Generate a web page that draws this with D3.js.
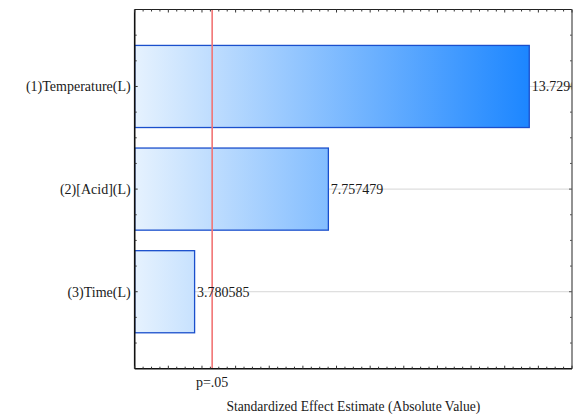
<!DOCTYPE html>
<html>
<head>
<meta charset="utf-8">
<script src="https://cdn.jsdelivr.net/npm/d3@7"></script>
<style>
  html, body { margin: 0; padding: 0; background: #fff; }
</style>
</head>
<body>
<svg id="chart" width="586" height="419"></svg>
<script>
// Pareto chart of standardized effects
const effects = ["(1)Temperature(L)", "(2)[Acid](L)", "(3)Time(L)"];
const estimates = [13.7296, 7.757479, 3.780585];
const valueLabels = ["13.7296", "7.757479", "3.780585"];
const critical = 4.302653;           // t critical value at p = .05
const criticalLabel = "p=.05";
const xTitle = "Standardized Effect Estimate (Absolute Value)";

const FONT = "'Liberation Serif', 'Times New Roman', Times, serif";
const svg = d3.select("#chart")
  .attr("font-family", FONT);
const plotLeft = 134.7, plotRight = 572, plotTop = 9.5, plotBottom = 368.7;

const x = d3.scaleLinear().domain([2, 15]).range([plotLeft, plotRight]);
const y = d3.scaleLinear().domain([0.25, 3.75]).range([plotTop, plotBottom]);
const barH = y(0.8) - y(0);

// bar fill gradient, shared across the plot width
const defs = svg.append("defs");
const grad = defs.append("linearGradient")
  .attr("id", "barGrad").attr("gradientUnits", "userSpaceOnUse")
  .attr("x1", x(2)).attr("x2", x(d3.max(estimates))).attr("y1", 0).attr("y2", 0);
grad.append("stop").attr("offset", "0%").attr("stop-color", "#e6f2fe");
grad.append("stop").attr("offset", "100%").attr("stop-color", "#1c86ff");

defs.append("clipPath").attr("id", "plotClip")
  .append("rect").attr("x", plotLeft).attr("y", plotTop)
  .attr("width", plotRight - plotLeft).attr("height", plotBottom - plotTop);

const plot = svg.append("g").attr("clip-path", "url(#plotClip)");

// horizontal grid lines at each effect
plot.selectAll(".grid").data(effects).join("line")
  .attr("x1", plotLeft).attr("x2", plotRight)
  .attr("y1", (d, i) => y(i + 1)).attr("y2", (d, i) => y(i + 1))
  .attr("stroke", "#d6d6d6").attr("stroke-width", 1);

// bars
plot.selectAll(".bar").data(estimates).join("rect")
  .attr("x", x(2))
  .attr("y", (d, i) => y(i + 1) - barH / 2)
  .attr("width", d => x(d) - x(2))
  .attr("height", barH)
  .attr("fill", "url(#barGrad)")
  .attr("stroke", "#1a4fcc").attr("stroke-width", 1.3);

// significance line
plot.append("line")
  .attr("x1", x(critical)).attr("x2", x(critical))
  .attr("y1", plotTop).attr("y2", plotBottom)
  .attr("stroke", "#f27575").attr("stroke-width", 1.6);

// value labels
plot.selectAll(".val").data(estimates).join("text")
  .attr("x", d => x(d) + 2.5)
  .attr("y", (d, i) => y(i + 1))
  .attr("dy", "0.35em")
  .attr("font-size", 14)
  .attr("fill", "#1a1a1a")
  .text((d, i) => valueLabels[i]);

// frame with inward ticks on every side
const xTicks = d3.range(2, 15.001, 0.25);
const yTicks = d3.range(0.5, 3.501, 0.25);
const isMajor = v => Math.abs(v - Math.round(v)) < 1e-6;

const frame = svg.append("g");
frame.append("line").attr("x1", plotLeft).attr("x2", plotRight).attr("y1", plotTop).attr("y2", plotTop)
  .attr("stroke", "#222").attr("stroke-width", 1.2);
frame.append("line").attr("x1", plotRight).attr("x2", plotRight).attr("y1", plotTop).attr("y2", plotBottom)
  .attr("stroke", "#777").attr("stroke-width", 1.6);
frame.append("line").attr("x1", plotLeft).attr("x2", plotRight).attr("y1", plotBottom).attr("y2", plotBottom)
  .attr("stroke", "#111").attr("stroke-width", 1.6);
frame.append("line").attr("x1", plotLeft).attr("x2", plotLeft).attr("y1", plotTop).attr("y2", plotBottom)
  .attr("stroke", "#111").attr("stroke-width", 1.6);

frame.selectAll(".tb").data(xTicks).join("line")
  .attr("x1", d => x(d)).attr("x2", d => x(d))
  .attr("y1", plotBottom).attr("y2", d => plotBottom - (isMajor(d) ? 3 : 2))
  .attr("stroke", "#333").attr("stroke-width", 1);
frame.selectAll(".tt").data(xTicks).join("line")
  .attr("x1", d => x(d)).attr("x2", d => x(d))
  .attr("y1", plotTop).attr("y2", d => plotTop + (isMajor(d) ? 3 : 2))
  .attr("stroke", "#333").attr("stroke-width", 1);
frame.selectAll(".tl").data(yTicks).join("line")
  .attr("x1", plotLeft).attr("x2", d => plotLeft + (isMajor(d) ? 3 : 2))
  .attr("y1", d => y(d)).attr("y2", d => y(d))
  .attr("stroke", "#333").attr("stroke-width", 1);
frame.selectAll(".tr").data(yTicks).join("line")
  .attr("x1", plotRight).attr("x2", d => plotRight - (isMajor(d) ? 3 : 2))
  .attr("y1", d => y(d)).attr("y2", d => y(d))
  .attr("stroke", "#555").attr("stroke-width", 1);

// category labels
svg.selectAll(".cat").data(effects).join("text")
  .attr("x", plotLeft - 4)
  .attr("y", (d, i) => y(i + 1))
  .attr("dy", "0.35em")
  .attr("text-anchor", "end")
  .attr("font-size", 14)
  .attr("fill", "#1a1a1a")
  .text(d => d);

// critical value label and axis title
svg.append("text")
  .attr("x", x(critical)).attr("y", 387)
  .attr("text-anchor", "middle").attr("font-size", 14)
  .attr("fill", "#1a1a1a")
  .text(criticalLabel);
svg.append("text")
  .attr("x", (plotLeft + plotRight) / 2).attr("y", 411)
  .attr("text-anchor", "middle").attr("font-size", 13.6)
  .attr("fill", "#1a1a1a")
  .text(xTitle);
</script>
</body>
</html>
